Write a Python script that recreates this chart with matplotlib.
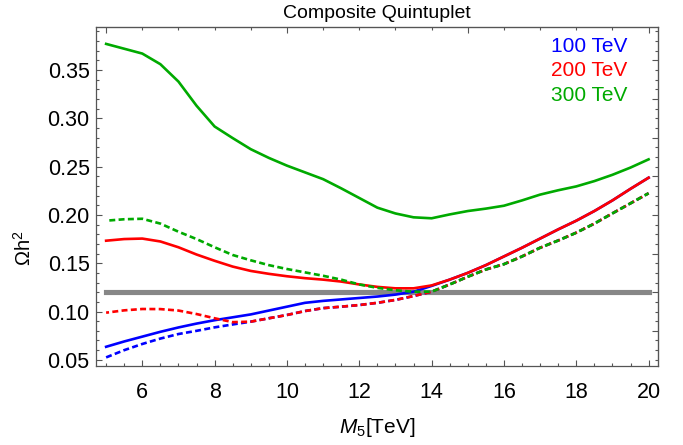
import matplotlib
matplotlib.use("Agg")
import matplotlib.pyplot as plt
from matplotlib.ticker import MultipleLocator, NullFormatter

plt.rcParams['font.family'] = ['Liberation Sans', 'DejaVu Sans']
plt.rcParams['mathtext.fontset'] = 'custom'
plt.rcParams['mathtext.rm'] = 'Liberation Sans'
plt.rcParams['mathtext.it'] = 'Liberation Sans:italic'
plt.rcParams['lines.scale_dashes'] = False

# ---------------- data ----------------
M5 = [5, 5.5, 6, 6.5, 7, 7.5, 8, 8.5, 9, 9.5, 10, 10.5, 11, 11.5, 12, 12.5,
      13, 13.5, 14, 14.5, 15, 15.5, 16, 16.5, 17, 17.5, 18, 18.5, 19, 19.5, 20]

blue_solid = [0.0635, 0.069, 0.074, 0.079, 0.0835, 0.0875, 0.091, 0.094, 0.097, 0.101,
              0.105, 0.109, 0.111, 0.1125, 0.114, 0.1155, 0.1175, 0.1205, 0.1265,
              0.133, 0.140, 0.148, 0.157, 0.166, 0.1755, 0.185, 0.194, 0.204, 0.215, 0.227, 0.2385]
red_solid = [0.1733, 0.175, 0.1755, 0.1725, 0.1665, 0.159, 0.1525, 0.1465, 0.142, 0.139,
             0.1365, 0.1345, 0.133, 0.131, 0.128, 0.1255, 0.124, 0.124, 0.127,
             0.133, 0.140, 0.148, 0.157, 0.166, 0.1755, 0.185, 0.194, 0.204, 0.215, 0.227, 0.2385]
green_solid = [0.377, 0.372, 0.367, 0.356, 0.338, 0.313, 0.2915, 0.2795, 0.268, 0.259,
               0.251, 0.244, 0.237, 0.2275, 0.2175, 0.2075, 0.2015, 0.1975, 0.1965,
               0.2005, 0.204, 0.2065, 0.2095, 0.215, 0.221, 0.2255, 0.2295, 0.235, 0.2415, 0.249, 0.2575]
blue_dashed = [0.0525, 0.060, 0.0664, 0.072, 0.0767, 0.080, 0.0836, 0.0866, 0.0895, 0.093,
               0.0964, 0.1005, 0.1035, 0.105, 0.1067, 0.109, 0.112, 0.116, 0.1205,
               0.128, 0.136, 0.1435, 0.149, 0.157, 0.166, 0.1735, 0.1816, 0.191, 0.2016, 0.212, 0.2224]
red_dashed = [0.0988, 0.1012, 0.1026, 0.1025, 0.101, 0.0974, 0.093, 0.089, 0.0895, 0.093,
              0.0964, 0.1005, 0.1035, 0.105, 0.1067, 0.109, 0.112, 0.116, 0.1205,
              0.128, 0.136, 0.1435, 0.149, 0.157, 0.166, 0.1735, 0.1816, 0.191, 0.2016, 0.212, 0.2224]
green_dashed = [0.194, 0.1955, 0.196, 0.191, 0.1826, 0.175, 0.1665, 0.1585, 0.153, 0.148,
                0.144, 0.1405, 0.137, 0.133, 0.128, 0.1245, 0.122, 0.1205, 0.1205,
                0.128, 0.136, 0.1435, 0.149, 0.157, 0.166, 0.1735, 0.1816, 0.191, 0.2016, 0.212, 0.2224]

omega_obs = 0.12
band_range = [5, 20]
legend_labels = ['100 TeV', '200 TeV', '300 TeV']
title = 'Composite Quintuplet'

BLUE = '#0000ff'
RED = '#ff0000'
GREEN = '#00aa00'

# ---------------- figure ----------------
W, H = 683, 445
fig = plt.figure(figsize=(W / 100, H / 100), dpi=100)
ax = fig.add_axes([96 / W, 1 - 366 / H, (658 - 96) / W, (366 - 27) / H])

ax.plot(band_range, [omega_obs, omega_obs], color='#878787', lw=3.7,
        solid_capstyle='projecting', zorder=1)

lw = 1.9
ax.plot(M5, blue_solid, color=BLUE, lw=lw, zorder=2)
ax.plot(M5, red_solid, color=RED, lw=lw, zorder=3)
ax.plot(M5, green_solid, color=GREEN, lw=lw, zorder=3)

dash = (4.3, 2.4)
ax.plot(M5, blue_dashed, color=BLUE, lw=lw, ls=(0, dash), zorder=4)
ax.plot(M5, red_dashed, color=RED, lw=lw, ls=(2.2, dash), zorder=5)
ax.plot(M5, green_dashed, color=GREEN, lw=lw, ls=(4.4, dash), zorder=6)

ax.set_xlim(4.72, 20.26)
ax.set_ylim(0.0436, 0.3945)

frame = '#555555'
for s in ax.spines.values():
    s.set_color(frame)
    s.set_linewidth(0.9)

ax.xaxis.set_major_locator(MultipleLocator(2))
ax.xaxis.set_minor_locator(MultipleLocator(0.5))
ax.yaxis.set_major_locator(MultipleLocator(0.05))
ax.yaxis.set_minor_locator(MultipleLocator(0.01))
ax.yaxis.set_major_formatter(plt.FuncFormatter(lambda v, p: f'{v:.2f}'))
ax.tick_params(which='both', direction='in', color=frame, width=0.8,
               labelsize=15.5, labelcolor='black')
ax.tick_params(which='major', length=4.0)
ax.tick_params(which='minor', length=2.3)
ax.tick_params(axis='x', pad=11.5)
ax.tick_params(axis='y', pad=4.5)

secx = ax.secondary_xaxis('top')
secx.xaxis.set_major_locator(MultipleLocator(5))
secx.xaxis.set_minor_locator(MultipleLocator(1))
secx.xaxis.set_major_formatter(NullFormatter())
secx.tick_params(which='both', direction='in', color=frame, width=0.8)
secx.tick_params(which='major', length=4.0)
secx.tick_params(which='minor', length=2.5)
secx.spines['top'].set_color(frame)

secy = ax.secondary_yaxis('right')
secy.yaxis.set_major_locator(MultipleLocator(0.04))
secy.yaxis.set_minor_locator(MultipleLocator(0.01))
secy.yaxis.set_major_formatter(NullFormatter())
secy.tick_params(which='both', direction='in', color=frame, width=0.8)
secy.tick_params(which='major', length=4.0)
secy.tick_params(which='minor', length=2.3)
secy.spines['right'].set_color(frame)

fig.text(377 / W, 1 - 17.5 / H, title, ha='center', va='baseline', fontsize=14)
fig.text(377 / W, 1 - 433 / H, r'$\mathit{M_5}$[TeV]', ha='center', va='baseline', fontsize=15)
fig.text(24 / W, 197 / H, r'$\mathrm{\Omega h^2}$', ha='center', va='center',
         rotation=90, fontsize=14.5)

for i, (lab, col) in enumerate(zip(legend_labels, [BLUE, RED, GREEN])):
    fig.text(627 / W, 1 - (51.7 + 24.5 * i) / H, lab, color=col, ha='right',
             va='baseline', fontsize=15)

fig.savefig('out.png', dpi=100)
